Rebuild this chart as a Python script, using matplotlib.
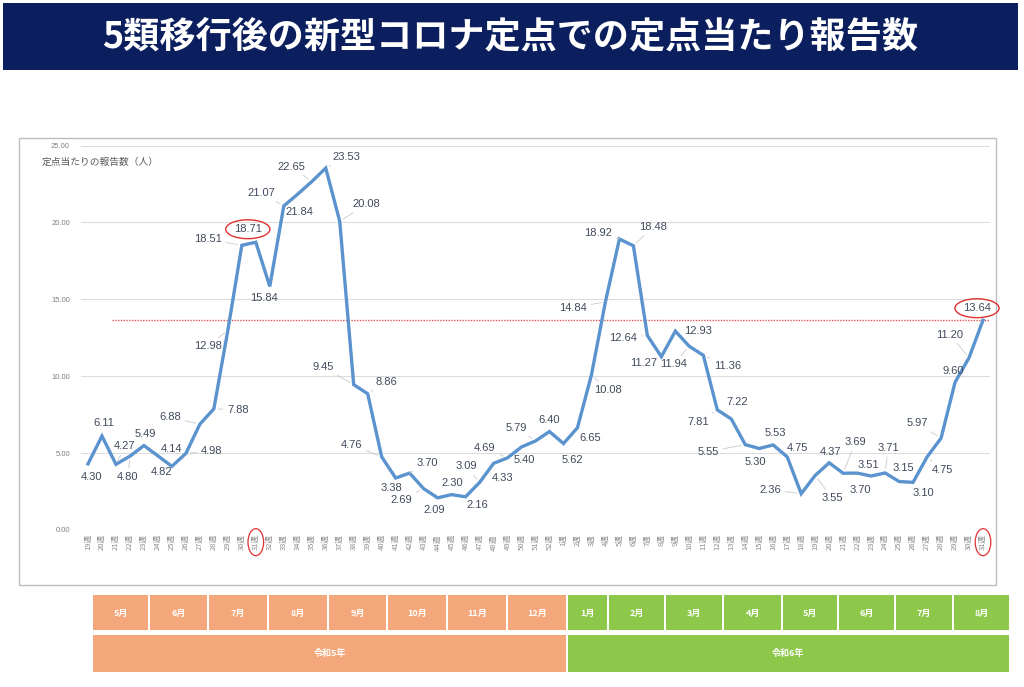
import matplotlib
matplotlib.use("Agg")
import matplotlib.pyplot as plt
from matplotlib.patches import Rectangle

plt.rcParams['font.family'] = ['Noto Sans CJK JP', 'DejaVu Sans']

# ---------------- data ----------------
title = "5類移行後の新型コロナ定点での定点当たり報告数"
y_title = "定点当たりの報告数（人）"
weeks_2023 = list(range(19, 53))
weeks_2024 = list(range(1, 32))
values_2023 = [4.30, 6.11, 4.27, 4.80, 5.49, 4.82, 4.14, 4.98, 6.88, 7.88,
               12.98, 18.51, 18.71, 15.84, 21.07, 21.84, 22.65, 23.53, 20.08, 9.45,
               8.86, 4.76, 3.38, 3.70, 2.69, 2.09, 2.30, 2.16, 3.09, 4.33,
               4.69, 5.40, 5.79, 6.40]
values_2024 = [5.62, 6.65, 10.08, 14.84, 18.92, 18.48, 12.64, 11.27, 12.93, 11.94,
               11.36, 7.81, 7.22, 5.55, 5.30, 5.53, 4.75, 2.36, 3.55, 4.37,
               3.69, 3.70, 3.51, 3.71, 3.15, 3.10, 4.75, 5.97, 9.60, 11.20,
               13.64]
reference_level = 13.64
months_2023 = ["5月", "6月", "7月", "8月", "9月", "10月", "11月", "12月"]
months_2024 = ["1月", "2月", "3月", "4月", "5月", "6月", "7月", "8月"]
era_labels = ["令和5年", "令和6年"]
y_ticks = [0, 5, 10, 15, 20, 25]
highlight_idx = [12, 64]

# label offsets in pixels (dx, dy downward)
label_offsets = [(4, 13), (2, -13), (9, -18), (-2, 21), (1, -12), (4, 16), (0, -17), (26, -2),
                 (-30, -7), (24, 1), (-20, 16), (-34, -6), (-8, -13), (-6, 12), (-22, -13),
                 (2, 18), (-20, -15), (21, -11), (27, -17), (-31, -18), (19, -12), (-30, -12),
                 (-4, 10), (18, -10), (-22, 11), (-3, 12), (1, -12), (12, 8), (-13, -16),
                 (9, 15), (-23, -10), (3, 13), (-19, -13), (0, -12), (9, 16), (13, 10),
                 (17, 15), (-32, 6), (-21, -6), (20, -19), (-24, 2), (-18, 6), (23, 0),
                 (-16, 18), (24, 11), (-19, 12), (6, -17), (-37, 7), (-4, 14), (2, -12),
                 (10, -9), (-31, -4), (17, 23), (1, -11), (12, -31), (3, 17), (-3, -11),
                 (3, -25), (4, -14), (10, 11), (15, 13), (-24, -15), (-2, -11), (-19, -23),
                 (-6, -12)]

week_labels = [f"{w}週" for w in weeks_2023] + [f"{w}週" for w in weeks_2024]
values = values_2023 + values_2024
x = list(range(len(values)))

W, H = 1024, 687
fig = plt.figure(figsize=(W / 100, H / 100), dpi=100)
fig.patch.set_facecolor("white")

# background overlay axes in pixel coordinates
bg = fig.add_axes([0, 0, 1, 1], zorder=0)
bg.set_xlim(0, W)
bg.set_ylim(H, 0)
bg.axis("off")

# title banner
bg.add_patch(Rectangle((3, 3), 1015, 67, facecolor="#0B1F5E", edgecolor="none"))
bg.text(510, 37, title, color="white", fontsize=26, fontweight="bold",
        ha="center", va="center")

# chart frame
bg.add_patch(Rectangle((19, 138), 977, 447, facecolor="white", edgecolor="#bdbdbd", lw=1.0))

# month / era bands
orange = "#F4A77A"
green = "#8DC84B"
b23 = [92, 149, 208, 268, 328, 387, 447, 507, 567]
b24 = [567, 608, 665, 723, 782, 838, 895, 953, 1010]
for bounds, names, col in ((b23, months_2023, orange), (b24, months_2024, green)):
    for i, name in enumerate(names):
        x0, x1 = bounds[i], bounds[i + 1]
        bg.add_patch(Rectangle((x0 + 1, 595), x1 - x0 - 2, 35, facecolor=col, edgecolor="none"))
        bg.text((x0 + x1) / 2, 613, name, color="white", fontsize=6.5, fontweight="bold",
                ha="center", va="center")
bg.add_patch(Rectangle((b23[0] + 1, 635), b23[-1] - b23[0] - 2, 37, facecolor=orange, edgecolor="none"))
bg.text((b23[0] + b23[-1]) / 2, 653, era_labels[0], color="white", fontsize=6.5,
        fontweight="bold", ha="center", va="center")
bg.add_patch(Rectangle((b24[0] + 1, 635), b24[-1] - b24[0] - 2, 37, facecolor=green, edgecolor="none"))
bg.text((b24[0] + b24[-1]) / 2, 653, era_labels[1], color="white", fontsize=6.5,
        fontweight="bold", ha="center", va="center")

# y-axis title
bg.text(42, 162, y_title, color="#595959", fontsize=7, ha="left", va="center")

# main chart axes
ax = fig.add_axes([81 / W, (H - 530) / H, 909 / W, (530 - 145.5) / H], zorder=2)
ax.patch.set_alpha(0)
ax.set_xlim(-0.5, len(values) - 0.5)
ax.set_ylim(0, 25)
for s in ax.spines.values():
    s.set_visible(False)
ax.set_yticks(y_ticks)
ax.set_yticklabels([f"{v:.2f}" for v in y_ticks], fontsize=5.5, color="#7f7f7f",
                   family=["Liberation Sans"])
ax.yaxis.grid(True, color="#dcdcdc", lw=0.8)
ax.set_axisbelow(True)
ax.tick_params(axis="y", length=0, pad=8)
ax.set_xticks(x)
ax.set_xticklabels(week_labels, rotation=90, fontsize=5.5, color="#8c8c8c")
ax.tick_params(axis="x", length=0, pad=3)

ax.axhline(reference_level, xmin=0.034, xmax=1.0, color="#E05555", lw=1.0,
           linestyle=(0, (1, 1)), zorder=1)

ax.plot(x, values, color="#5B93CF", lw=2.4, solid_joinstyle="miter", zorder=3)

for i, v in enumerate(values):
    dx, dy = label_offsets[i]
    dist = (dx * dx + dy * dy) ** 0.5
    kw = {}
    if dist > 19:
        kw["arrowprops"] = dict(arrowstyle="-", color="#c9c9c9", lw=0.6, shrinkA=1, shrinkB=3)
    if i in highlight_idx:
        kw["bbox"] = dict(boxstyle="ellipse,pad=0.15", facecolor="none", edgecolor="#E03030", lw=1.0)
    ax.annotate(f"{v:.2f}", xy=(i, v), xytext=(dx, -dy), textcoords="offset pixels",
                ha="center", va="center", fontsize=8, color="#404A5C",
                family=["Liberation Sans"], zorder=4, **kw)

labels = ax.get_xticklabels()
for i in highlight_idx:
    labels[i].set_bbox(dict(boxstyle="ellipse,pad=0.2", facecolor="none", edgecolor="#E03030", lw=0.9))

fig.savefig("out.png", dpi=100, facecolor="white")
